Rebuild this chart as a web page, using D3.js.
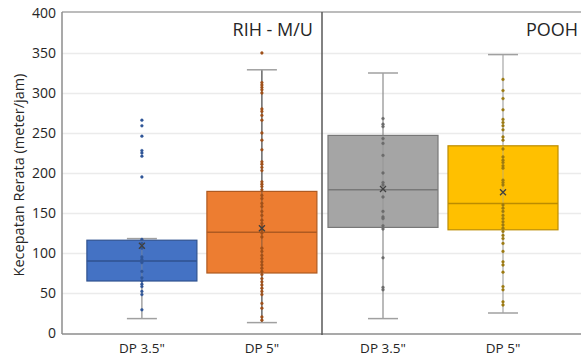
<!DOCTYPE html>
<html>
<head>
<meta charset="utf-8">
<script src="https://cdn.jsdelivr.net/npm/d3@7"></script>
<style>
  body { margin: 0; background: #fff; }
  text { font-family: "Open Sans", sans-serif; fill: #262626; }
</style>
</head>
<body>
<div id="chart"></div>
<script>
// panels and categories
var panels = ["RIH - M/U", "POOH"];
var categories = ['DP 3.5"', 'DP 5"'];
var yTicks = [0, 50, 100, 150, 200, 250, 300, 350, 400];

// box stats: [whiskerLow, q1, median, q3, whiskerHigh, mean]
var rihDp35Stats = [18, 65, 90, 116, 118, 109];
var rihDp5Stats = [13, 75, 126, 177, 329, 131];
var poohDp35Stats = [18, 132, 179, 247, 325, 180];
var poohDp5Stats = [25, 129, 162, 234, 348, 176];

// individual points
var rihDp35Points = [266, 259, 246, 228, 225, 221, 195, 117, 112, 106, 95, 92, 88, 77, 69, 65, 61, 58, 52, 48, 29];
var rihDp5Points = [350, 313, 310, 307, 304, 300, 280, 277, 272, 266, 250, 241, 229, 214, 211, 207, 203,
  189, 186, 183, 179, 172, 168, 162, 158, 152, 147, 141, 137, 133, 129, 125, 120,
  106, 102, 97, 93, 89, 85, 81, 77, 73, 68, 64, 60, 56, 52, 48, 37, 31, 20, 16];
var poohDp35Points = [268, 261, 258, 243, 237, 222, 200, 188, 185, 170, 152, 145, 143, 134, 130, 94, 57, 54];
var poohDp5Points = [317, 303, 293, 279, 267, 263, 259, 254, 245, 241, 230, 220, 216, 213, 209, 206,
  191, 188, 185, 160, 156, 152, 147, 143, 139, 135, 131, 127, 122, 118, 112, 102, 89, 85, 76, 58, 54, 39, 35];

var series = [
  {panel: panels[0], cat: categories[0], stats: rihDp35Stats, pts: rihDp35Points, fill: "#4472C4", stroke: "#2F528F", dot: "#2F5597", whisker: "#8c8c8c"},
  {panel: panels[0], cat: categories[1], stats: rihDp5Stats, pts: rihDp5Points, fill: "#ED7D31", stroke: "#AE5A21", dot: "#A0501A", whisker: "#404040"},
  {panel: panels[1], cat: categories[0], stats: poohDp35Stats, pts: poohDp35Points, fill: "#A5A5A5", stroke: "#787878", dot: "#6b6b6b", whisker: "#8c8c8c"},
  {panel: panels[1], cat: categories[1], stats: poohDp5Stats, pts: poohDp5Points, fill: "#FFC000", stroke: "#BC8C00", dot: "#9C7A10", whisker: "#a6a6a6"}
];

var W = 581, H = 356;
var plotLeft = 62, plotTop = 13, plotBottom = 333, split = 322, plotRight = 582;

var svg = d3.select("#chart").append("svg")
  .attr("width", W).attr("height", H);

var y = d3.scaleLinear().domain([0, 400]).range([plotBottom, plotTop]);

// panel scales
var panelX = {};
panelX[panels[0]] = d3.scaleBand().domain(categories).range([plotLeft, split])
  .paddingInner(1 / 12).paddingOuter(0.125).align(0.83);
panelX[panels[1]] = d3.scaleBand().domain(categories).range([split, plotRight])
  .paddingInner(1 / 12).paddingOuter(0.125).align(0.2);

// gridlines
svg.append("g").selectAll("line").data(yTicks.slice(1, -1)).join("line")
  .attr("x1", plotLeft).attr("x2", W)
  .attr("y1", function(d) { return Math.round(y(d)) + 0.5; })
  .attr("y2", function(d) { return Math.round(y(d)) + 0.5; })
  .attr("stroke", "#ebebeb").attr("stroke-width", 1.5);

// frame
svg.append("line").attr("x1", plotLeft).attr("x2", W).attr("y1", plotTop - 1).attr("y2", plotTop - 1)
  .attr("stroke", "#a6a6a6").attr("stroke-width", 1.5);

// y axis
var yAxis = svg.append("g")
  .attr("transform", "translate(" + plotLeft + ",0)")
  .call(d3.axisLeft(y).tickValues(yTicks).tickSize(0).tickPadding(6));
yAxis.select(".domain").attr("stroke", "#8c8c8c").attr("stroke-width", 1.5)
  .attr("d", "M0," + (plotTop - 1) + "V" + (plotBottom + 1));
yAxis.selectAll("text").attr("font-size", 14).attr("font-family", "Open Sans").attr("fill", "#262626");

// y label
svg.append("text")
  .attr("transform", "translate(19," + ((plotTop + plotBottom) / 2 + 2) + ") rotate(-90)")
  .attr("text-anchor", "middle")
  .attr("dy", "0.35em")
  .attr("font-size", 14.5)
  .text("Kecepatan Rerata (meter/jam)");

// boxes
var g = svg.append("g");
series.forEach(function(s) {
  var x = panelX[s.panel];
  var x0 = x(s.cat), bw = x.bandwidth(), cx = x0 + bw / 2;
  var st = s.stats, cap = 30;

  // whisker
  g.append("line").attr("x1", cx).attr("x2", cx)
    .attr("y1", y(st[0])).attr("y2", y(st[4]))
    .attr("stroke", s.whisker).attr("stroke-width", 1.2);
  [st[0], st[4]].forEach(function(v) {
    g.append("line").attr("x1", cx - cap / 2).attr("x2", cx + cap / 2)
      .attr("y1", y(v)).attr("y2", y(v))
      .attr("stroke", "#a0a0a0").attr("stroke-width", 1.5);
  });

  // box
  g.append("rect").attr("x", x0).attr("width", bw)
    .attr("y", y(st[3])).attr("height", y(st[1]) - y(st[3]))
    .attr("fill", s.fill).attr("stroke", s.stroke).attr("stroke-width", 1.2);

  // whisker inside box (drawn over)
  g.append("line").attr("x1", cx).attr("x2", cx)
    .attr("y1", y(st[1])).attr("y2", y(st[3]))
    .attr("stroke", s.whisker).attr("stroke-width", 1).attr("opacity", 0.6);

  // median
  g.append("line").attr("x1", x0).attr("x2", x0 + bw)
    .attr("y1", y(st[2])).attr("y2", y(st[2]))
    .attr("stroke", s.stroke).attr("stroke-width", 1.5);

  // points
  g.append("g").selectAll("circle").data(s.pts).join("circle")
    .attr("cx", cx).attr("cy", function(d) { return y(d); })
    .attr("r", 1.4)
    .attr("fill", s.dot).attr("stroke", s.dot).attr("stroke-width", 0.4);

  // mean marker
  var m = 3, my = y(st[5]);
  g.append("path")
    .attr("d", "M" + (cx - m) + "," + (my - m) + "L" + (cx + m) + "," + (my + m) +
      "M" + (cx - m) + "," + (my + m) + "L" + (cx + m) + "," + (my - m))
    .attr("stroke", "#404040").attr("stroke-width", 1.3);

  // category label
  svg.append("text").attr("x", cx).attr("y", plotBottom + 15)
    .attr("text-anchor", "middle").attr("dy", "0.35em")
    .attr("font-size", 13.5).text(s.cat);
});

// bottom axis line
svg.append("line").attr("x1", plotLeft).attr("x2", W).attr("y1", plotBottom + 1).attr("y2", plotBottom + 1)
  .attr("stroke", "#8c8c8c").attr("stroke-width", 1.5);

// separator
svg.append("line").attr("x1", split).attr("x2", split).attr("y1", plotTop - 1).attr("y2", plotBottom + 2)
  .attr("stroke", "#595959").attr("stroke-width", 1.5);

// panel titles
svg.append("text").attr("x", split - 9).attr("y", 36)
  .attr("text-anchor", "end").attr("font-size", 18).text(panels[0]);
svg.append("text").attr("x", 578).attr("y", 36)
  .attr("text-anchor", "end").attr("font-size", 18).text(panels[1]);
</script>
</body>
</html>
